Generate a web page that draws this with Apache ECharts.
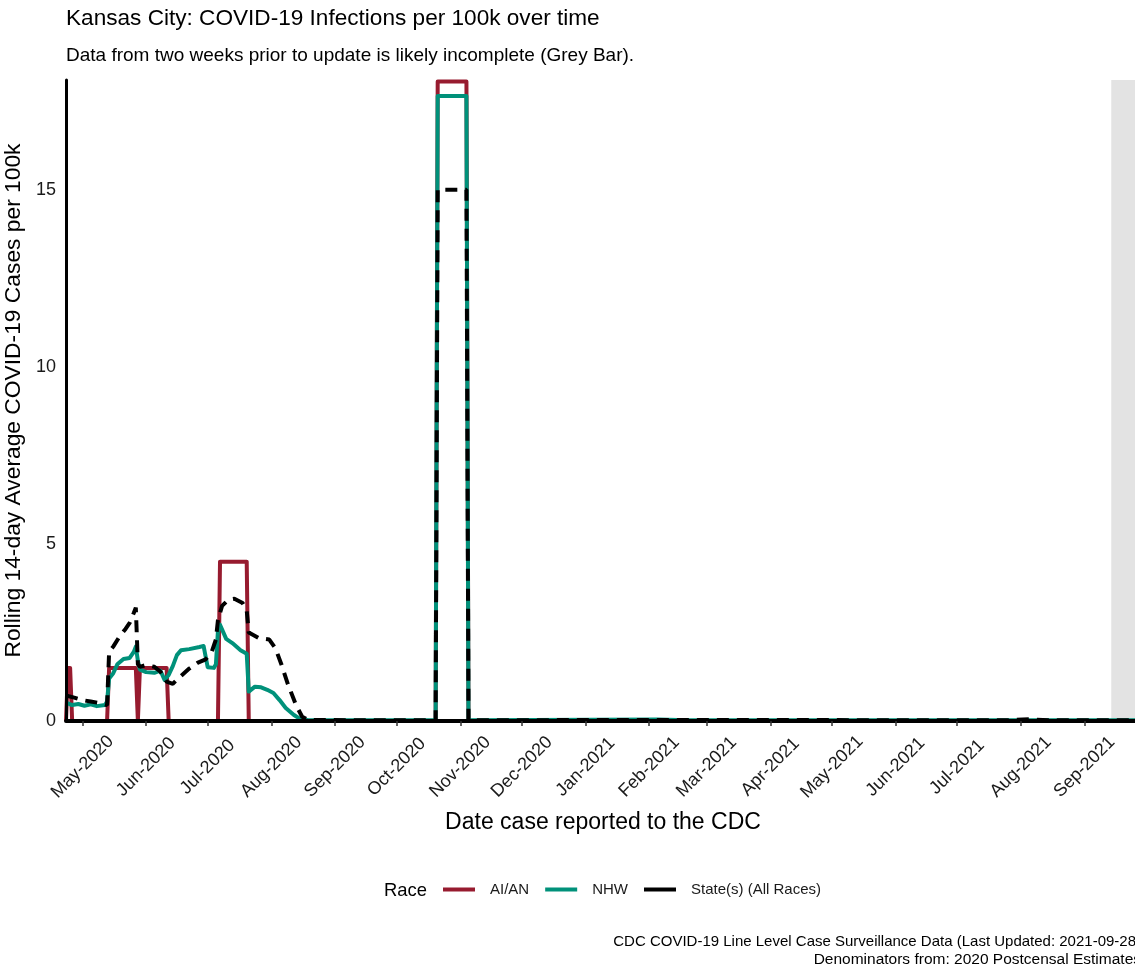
<!DOCTYPE html>
<html>
<head>
<meta charset="utf-8">
<title>Kansas City: COVID-19 Infections per 100k over time</title>
<script src="https://cdn.jsdelivr.net/npm/echarts@6/dist/echarts.min.js"></script>
<style>
  html, body { margin: 0; padding: 0; background: #fff; }
  #chart { width: 1135px; height: 972px; }
</style>
</head>
<body>
<div id="chart"></div>
<script>
// --- data ---
const seriesNames = ['AI/AN', 'NHW', 'State(s) (All Races)'];

const aianDates = ['2020-04-23', '2020-04-24', '2020-04-25', '2020-04-26', '2020-05-13', '2020-05-14',
  '2020-05-27', '2020-05-28', '2020-05-29', '2020-06-11', '2020-06-12', '2020-07-06', '2020-07-07',
  '2020-07-20', '2020-07-21', '2020-10-20', '2020-10-21', '2020-11-04', '2020-11-05', '2021-09-28'];
const aianValues = [0, 1.5, 1.5, 0, 0, 1.5,
  1.5, 0, 1.5, 1.5, 0, 0, 4.5,
  4.5, 0, 0, 18.06, 18.06, 0, 0];

const nhwDates = ['2020-04-23', '2020-04-26', '2020-04-29', '2020-05-02', '2020-05-05', '2020-05-08',
  '2020-05-12', '2020-05-13', '2020-05-14', '2020-05-16', '2020-05-18', '2020-05-21', '2020-05-24',
  '2020-05-26', '2020-05-27', '2020-05-28', '2020-05-29', '2020-06-01', '2020-06-05', '2020-06-08',
  '2020-06-10', '2020-06-12', '2020-06-14', '2020-06-16', '2020-06-18', '2020-06-22', '2020-06-27',
  '2020-06-29', '2020-06-30', '2020-07-01', '2020-07-04', '2020-07-05', '2020-07-06', '2020-07-07',
  '2020-07-10', '2020-07-13', '2020-07-17', '2020-07-20', '2020-07-21', '2020-07-24', '2020-07-27',
  '2020-07-30', '2020-08-02', '2020-08-05', '2020-08-08', '2020-08-12', '2020-08-15', '2020-08-19',
  '2020-10-20', '2020-10-21', '2020-11-04', '2020-11-05', '2021-02-05', '2021-02-20', '2021-09-28'];
const nhwValues = [0.52, 0.45, 0.48, 0.43, 0.47, 0.42,
  0.45, 0.55, 1.2, 1.35, 1.6, 1.75, 1.78,
  1.95, 2.1, 1.7, 1.45, 1.38, 1.36, 1.42,
  1.16, 1.3, 1.55, 1.86, 2.0, 2.03, 2.09,
  2.12, 1.82, 1.52, 1.5, 1.6, 2.55, 2.72,
  2.32, 2.2, 2.0, 1.9, 0.83, 0.97, 0.95,
  0.88, 0.79, 0.59, 0.37, 0.17, 0.06, 0.02,
  0.02, 17.65, 17.65, 0.02, 0.04, 0.02, 0.02];

const stateDates = ['2020-04-23', '2020-04-27', '2020-05-01', '2020-05-05', '2020-05-09', '2020-05-13',
  '2020-05-14', '2020-05-16', '2020-05-19', '2020-05-22', '2020-05-24', '2020-05-26', '2020-05-27',
  '2020-05-28', '2020-05-29', '2020-06-01', '2020-06-05', '2020-06-08', '2020-06-11', '2020-06-14',
  '2020-06-17', '2020-06-22', '2020-06-26', '2020-06-30', '2020-07-03', '2020-07-05', '2020-07-06',
  '2020-07-08', '2020-07-11', '2020-07-14', '2020-07-18', '2020-07-20', '2020-07-21', '2020-07-26',
  '2020-07-31', '2020-08-03', '2020-08-06', '2020-08-09', '2020-08-13', '2020-08-16', '2020-08-19',
  '2020-09-15', '2020-10-20', '2020-10-21', '2020-11-04', '2020-11-05', '2021-02-01', '2021-07-25',
  '2021-08-05', '2021-08-15', '2021-09-28'];
const stateValues = [0.72, 0.66, 0.59, 0.55, 0.51, 0.45,
  1.95, 2.1, 2.38, 2.6, 2.77, 3.05, 3.2,
  1.6, 1.53, 1.58, 1.53, 1.39, 1.11, 1.05,
  1.22, 1.48, 1.64, 1.74, 1.96, 2.3, 2.85,
  3.25, 3.42, 3.45, 3.33, 3.12, 2.5, 2.34,
  2.3, 2.05, 1.58, 1.05, 0.45, 0.12, 0.03,
  0.02, 0.02, 15.0, 15.0, 0.02, 0.03, 0.02,
  0.05, 0.02, 0.02];

const monthTickDates = ['2020-05-01', '2020-06-01', '2020-07-01', '2020-08-01', '2020-09-01', '2020-10-01',
  '2020-11-01', '2020-12-01', '2021-01-01', '2021-02-01', '2021-03-01', '2021-04-01', '2021-05-01',
  '2021-06-01', '2021-07-01', '2021-08-01', '2021-09-01'];
const monthTickLabels = ['May-2020', 'Jun-2020', 'Jul-2020', 'Aug-2020', 'Sep-2020', 'Oct-2020',
  'Nov-2020', 'Dec-2020', 'Jan-2021', 'Feb-2021', 'Mar-2021', 'Apr-2021', 'May-2021',
  'Jun-2021', 'Jul-2021', 'Aug-2021', 'Sep-2021'];
const yTickValues = [0, 5, 10, 15];

const xStart = '2020-04-23';
const xEnd = '2021-09-28';
const incompleteStart = '2021-09-14'; // grey bar: two weeks before update

// dates -> ms (UTC); x axis is a plain value axis so custom month ticks work
const ts = (s) => Date.parse(s + 'T00:00:00Z');
const pairs = (dates, values) => dates.map((d, i) => [ts(d), values[i]]);

const FONT = '"Liberation Sans", Arial, sans-serif';
const monthTs = monthTickDates.map(ts);

const chart = echarts.init(document.getElementById('chart'), null, { renderer: 'canvas' });

const option = {
  animation: false,
  backgroundColor: '#fff',
  textStyle: { fontFamily: FONT },
  title: [
    {
      text: 'Kansas City: COVID-19 Infections per 100k over time',
      left: 66, top: 7, padding: 0,
      textStyle: { fontSize: 22.6, fontWeight: 'normal', color: '#000', fontFamily: FONT }
    },
    {
      text: 'Data from two weeks prior to update is likely incomplete (Grey Bar).',
      left: 66, top: 46, padding: 0,
      textStyle: { fontSize: 19, fontWeight: 'normal', color: '#000', fontFamily: FONT }
    }
  ],
  legend: {
    data: seriesNames,
    left: 443, top: 882,
    padding: 0,
    icon: 'rect',
    itemWidth: 32, itemHeight: 4,
    itemGap: 16,
    textStyle: { fontSize: 15, color: '#1a1a1a', fontFamily: FONT, padding: [0, 0, 0, 10] }
  },
  graphic: [
    {
      type: 'text', left: 384, top: 882,
      style: { text: 'Race', fontSize: 18.4, fill: '#000', fontFamily: FONT }
    },
    {
      type: 'text', x: 1141, y: 942,
      style: {
        text: 'CDC COVID-19 Line Level Case Surveillance Data (Last Updated: 2021-09-28)',
        fontSize: 15, fill: '#000', fontFamily: FONT, align: 'right', verticalAlign: 'middle'
      }
    },
    {
      type: 'text', x: 1141, y: 960,
      style: {
        text: 'Denominators from: 2020 Postcensal Estimates',
        fontSize: 15.5, fill: '#000', fontFamily: FONT, align: 'right', verticalAlign: 'middle'
      }
    }
  ],
  grid: { left: 66, right: -5, top: 80, bottom: 251, outerBoundsMode: 'none', containLabel: false },
  xAxis: {
    type: 'value',
    min: ts(xStart),
    max: ts(xEnd),
    z: 5,
    name: 'Date case reported to the CDC',
    nameLocation: 'middle',
    nameGap: 90,
    nameTextStyle: { fontSize: 23, color: '#000', fontFamily: FONT },
    axisLine: { lineStyle: { color: '#000', width: 4 } },
    axisTick: { customValues: monthTs, length: 5, lineStyle: { color: '#333', width: 1.5 } },
    axisLabel: {
      customValues: monthTs,
      rotate: 45,
      align: 'center',
      verticalAlign: 'middle',
      margin: 46,
      fontSize: 18,
      color: '#1a1a1a',
      fontFamily: FONT,
      formatter: (v) => monthTickLabels[monthTs.indexOf(v)] || ''
    },
    splitLine: { show: false }
  },
  yAxis: {
    type: 'value',
    min: 0,
    max: 18.1,
    z: 5,
    name: 'Rolling 14-day Average COVID-19 Cases per 100k',
    nameLocation: 'middle',
    nameRotate: 90,
    nameGap: 27,
    nameTextStyle: { fontSize: 22.8, color: '#000', fontFamily: FONT },
    axisLine: { show: true, lineStyle: { color: '#000', width: 3 } },
    axisTick: { show: false },
    axisLabel: { customValues: yTickValues, fontSize: 18, color: '#1a1a1a', margin: 10, fontFamily: FONT },
    splitLine: { show: false }
  },
  series: [
    {
      name: seriesNames[0],
      type: 'line',
      data: pairs(aianDates, aianValues),
      symbol: 'none',
      z: 2,
      color: '#971B2F',
      lineStyle: { color: '#971B2F', width: 4, join: 'round' },
      markArea: {
        silent: true,
        z: 1,
        itemStyle: { color: '#E3E3E3' },
        data: [[{ xAxis: ts(incompleteStart) }, { xAxis: ts(xEnd) }]]
      }
    },
    {
      name: seriesNames[1],
      type: 'line',
      data: pairs(nhwDates, nhwValues),
      symbol: 'none',
      z: 3,
      color: '#00917A',
      lineStyle: { color: '#00917A', width: 4, join: 'round' }
    },
    {
      name: seriesNames[2],
      type: 'line',
      data: pairs(stateDates, stateValues),
      symbol: 'none',
      z: 4,
      color: '#000',
      lineStyle: { color: '#000', width: 4, type: [12, 8], cap: 'butt' }
    }
  ]
};

chart.setOption(option);
</script>
</body>
</html>
